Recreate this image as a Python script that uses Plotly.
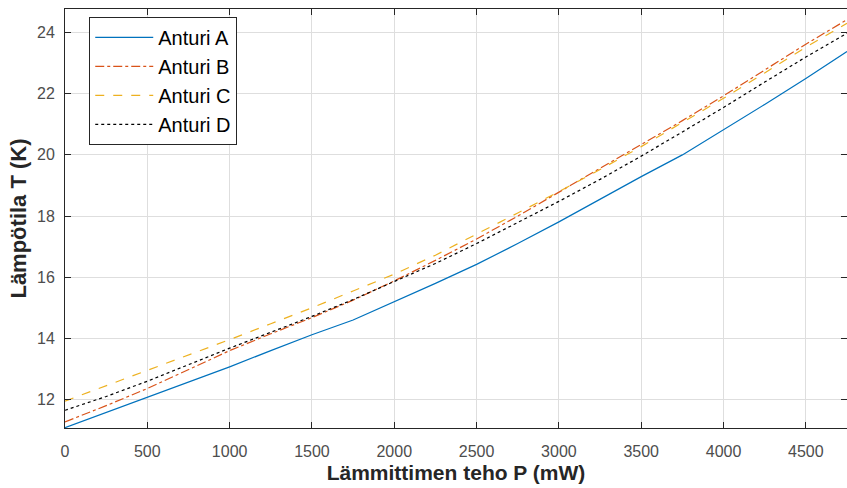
import plotly.graph_objects as go

# Heater power (mW) and sensor temperatures (K)
teho = [0, 250, 500, 750, 1000, 1250, 1500, 1750, 2000, 2250,
        2500, 2750, 3000, 3250, 3500, 3750, 4000, 4250, 4500, 4750]

anturi_a = [11.08, 11.58, 12.07, 12.57, 13.07, 13.60, 14.12, 14.60, 15.19, 15.80,
            16.42, 17.10, 17.81, 18.55, 19.29, 20.00, 20.82, 21.65, 22.50, 23.38]
anturi_b = [11.27, 11.80, 12.36, 12.98, 13.60, 14.15, 14.68, 15.25, 15.88, 16.55,
            17.25, 18.00, 18.78, 19.55, 20.32, 21.12, 21.93, 22.78, 23.62, 24.42]
anturi_c = [11.95, 12.45, 12.97, 13.45, 13.96, 14.48, 15.00, 15.55, 16.10, 16.72,
            17.40, 18.10, 18.80, 19.52, 20.27, 21.05, 21.85, 22.68, 23.52, 24.30]
anturi_d = [11.65, 12.10, 12.60, 13.15, 13.68, 14.20, 14.72, 15.27, 15.85, 16.45,
            17.10, 17.78, 18.48, 19.20, 19.96, 20.75, 21.55, 22.38, 23.20, 23.98]

nimet = ["Anturi A", "Anturi B", "Anturi C", "Anturi D"]
sarjat = [anturi_a, anturi_b, anturi_c, anturi_d]
varit = ["#0072BD", "#D95319", "#EDB120", "#000000"]
viivat = ["solid", "dashdot", "dash", "dot"]

x_ticks = [0, 500, 1000, 1500, 2000, 2500, 3000, 3500, 4000, 4500]
y_ticks = [12, 14, 16, 18, 20, 22, 24]

FONTTI = "Liberation Sans, Arial, sans-serif"

fig = go.Figure()
for nimi, y, vari, viiva in zip(nimet, sarjat, varit, viivat):
    fig.add_trace(go.Scatter(
        x=teho, y=y, mode="lines", name=nimi,
        line=dict(color=vari, width=1.2, dash=viiva),
    ))

akseli = dict(
    showline=True, linecolor="#262626", linewidth=1, mirror="ticks",
    ticks="inside", ticklen=6, tickcolor="#262626",
    showgrid=True, gridcolor="#dedede", gridwidth=1,
    zeroline=False,
    tickfont=dict(family=FONTTI, size=16, color="#4d4d4d"),
)

fig.update_xaxes(
    **akseli, range=[0, 4750], tickvals=x_ticks, ticklabelstandoff=9,
    title=dict(text="<b>Lämmittimen teho P (mW)</b>", standoff=6,
               font=dict(family=FONTTI, size=21, color="#262626")),
)
fig.update_yaxes(
    **akseli, range=[11.07, 24.77], tickvals=y_ticks, ticklabelstandoff=6,
    title=dict(text="<b>Lämpötila T (K)</b>", standoff=4,
               font=dict(family=FONTTI, size=22, color="#262626")),
)

fig.update_layout(
    width=847, height=488,
    margin=dict(l=65, r=0, t=9, b=60),
    paper_bgcolor="white", plot_bgcolor="white",
    font=dict(family=FONTTI, color="#262626"),
    legend=dict(
        x=0.031, y=0.981, xanchor="left", yanchor="top",
        bgcolor="white", bordercolor="#262626", borderwidth=1,
        font=dict(family=FONTTI, size=20, color="#000000"),
        tracegroupgap=0, itemwidth=58,
    ),
)

fig.write_html("out.html")
